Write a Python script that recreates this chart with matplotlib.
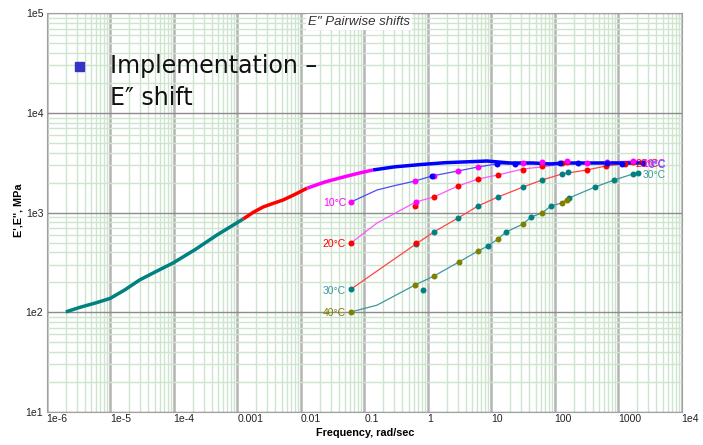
import numpy as np
import matplotlib
matplotlib.use("Agg")
import matplotlib.pyplot as plt
from matplotlib.ticker import LogLocator, NullFormatter
from matplotlib.patches import Rectangle

# master curve, one piece per reference temperature
master_teal_f = [2.0e-6, 3.3e-6, 6.1e-6, 1.0e-5, 1.7e-5, 2.9e-5, 5.1e-5, 9.8e-5,
                 2.2e-4, 4.8e-4, 1.24e-3]
master_teal_E = [101, 112, 125, 138, 168, 211, 254, 313,
                 428, 597, 863]
master_red_f = [1.24e-3, 1.8e-3, 2.56e-3, 3.7e-3, 5.28e-3, 8.2e-3, 0.0126]
master_red_E = [863, 1010, 1140, 1240, 1340, 1530, 1760]
master_mag_f = [0.0126, 0.024, 0.045, 0.08, 0.138]
master_mag_E = [1760, 2030, 2260, 2480, 2681]
master_blue_f = [0.138, 0.3, 0.757, 1.87, 8.6, 19.8, 45.6, 84.5, 150, 400, 1000, 2500]
master_blue_E = [2681, 2880, 3034, 3170, 3296, 3149, 3149, 3078, 3149, 3149, 3149, 3149]

# pairwise shifted curves (thin lines)
blue_f = [0.062, 0.159, 0.284, 0.63, 1.17, 3.0, 6.2, 12.3, 23.7, 121, 233, 667, 1148, 2466]
blue_E = [1280, 1687, 1850, 2076, 2334, 2619, 2873, 3078, 3078, 3149, 3149, 3149, 3078, 3149]
mag_f = [0.062, 0.159, 0.65, 1.25, 3.0, 6.2, 12.8, 31.7, 63, 130, 323, 667, 1710, 2466]
mag_E = [496, 787, 1280, 1436, 1850, 2174, 2388, 2744, 2873, 3078, 3149, 3222, 3296, 3296]
red_f = [0.062, 0.65, 1.25, 3.0, 6.2, 12.8, 31.7, 63, 130, 323, 643, 1280, 2466]
red_E = [171, 484, 640, 883, 1167, 1436, 1807, 2124, 2444, 2681, 2940, 3078, 3222]
teal_f = [0.062, 0.159, 0.63, 1.25, 3.1, 6.2, 8.9, 12.8, 17.1, 31.7, 42.4, 63, 87.5,
          130, 168, 431, 859, 1710, 2056]
teal_E = [101, 118, 188, 231, 320, 412, 463, 544, 640, 769, 904, 991, 1167,
          1251, 1403, 1807, 2124, 2444, 2501]

# measured points
blue_pts_f = [1.17, 12.3, 23.7, 121, 233, 667, 1148, 2466]
blue_pts_E = [2334, 3078, 3078, 3149, 3149, 3149, 3078, 3149]
mag_pts_f = [0.062, 0.63, 0.65, 1.25, 3.0, 6.2, 31.7, 63, 156, 323, 667, 1710]
mag_pts_E = [1280, 2076, 1280, 2334, 2619, 2873, 3149, 3222, 3296, 3149, 3222, 3296]
red_pts_f = [0.062, 0.63, 0.65, 1.25, 3.0, 6.2, 12.8, 31.7, 63, 130, 156, 323, 643, 1280, 1710]
red_pts_E = [496, 1170, 498, 1445, 1860, 2170, 2410, 2681, 2940, 3149, 3222, 2681, 2940, 3078, 3222]
teal_pts_f = [0.062, 0.65, 1.25, 3.0, 6.2, 12.8, 31.7, 63, 130, 162,
              0.84, 8.9, 17.1, 42.4, 87.5, 168, 431, 859, 1710, 2056]
teal_pts_E = [171, 484, 640, 883, 1167, 1436, 1807, 2124, 2444, 2560,
              168, 463, 640, 904, 1167, 1403, 1807, 2124, 2444, 2501]
olive_pts_f = [0.062, 0.63, 1.25, 3.1, 6.2, 12.8, 31.7, 63, 130, 156]
olive_pts_E = [101, 188, 231, 320, 412, 544, 769, 991, 1251, 1340]

xtick_vals = [1e-6, 1e-5, 1e-4, 1e-3, 1e-2, 1e-1, 1, 10, 100, 1000, 1e4]
xtick_labels = ["1e-6", "1e-5", "1e-4", "0.001", "0.01", "0.1", "1", "10", "100", "1000", "1e4"]
ytick_vals = [1e1, 1e2, 1e3, 1e4, 1e5]
ytick_labels = ["1e1", "1e2", "1e3", "1e4", "1e5"]

BLUE = "#0000ff"
MAG = "#ff00ff"
RED = "#ff0000"
TEAL = "#008080"
OLIVE = "#808000"

plt.rcParams["font.family"] = ["Liberation Sans Narrow", "Liberation Sans", "DejaVu Sans"]

fig, ax = plt.subplots(figsize=(7.03, 4.45), dpi=100)
fig.subplots_adjust(left=46.7 / 703, right=681.7 / 703, top=1 - 13.3 / 445, bottom=1 - 412 / 445)

ax.set_xscale("log")
ax.set_yscale("log")
ax.set_xlim(1e-6, 1e4)
ax.set_ylim(1e1, 1e5)

# grid: green minor lines, grey decades
ax.xaxis.set_minor_locator(LogLocator(base=10, subs=np.arange(2, 10), numticks=100))
ax.yaxis.set_minor_locator(LogLocator(base=10, subs=np.arange(2, 10), numticks=100))
ax.xaxis.set_minor_formatter(NullFormatter())
ax.yaxis.set_minor_formatter(NullFormatter())
ax.grid(which="minor", color="#cde4cd", lw=1.0)
ax.grid(which="major", axis="x", color="#b4b4b4", lw=1.8)
ax.grid(which="major", axis="y", color="#8c8c8c", lw=1.0)
ax.set_axisbelow(True)
for s in ax.spines.values():
    s.set_color("#a0a0a0")

ax.set_xticks(xtick_vals)
ax.set_xticklabels(xtick_labels)
ax.set_yticks(ytick_vals)
ax.set_yticklabels(ytick_labels)
ax.tick_params(which="both", length=0, labelsize=7.5, colors="#222222")
ax.tick_params(axis="x", pad=1.5)
ax.tick_params(axis="y", pad=2.5)
for lab in ax.get_xticklabels():
    lab.set_horizontalalignment("left")

# thin pairwise curves
ax.plot(blue_f, blue_E, color="#4a4aff", lw=0.9, zorder=3)
ax.plot(mag_f, mag_E, color="#ff55ff", lw=0.9, zorder=3)
ax.plot(red_f, red_E, color="#ff4444", lw=0.9, zorder=3)
ax.plot(teal_f, teal_E, color="#3a9a9a", lw=0.9, zorder=3)

# master curve
ax.plot(master_teal_f, master_teal_E, color=TEAL, lw=2.5, zorder=4, solid_capstyle="butt")
ax.plot(master_red_f, master_red_E, color=RED, lw=2.5, zorder=4, solid_capstyle="butt")
ax.plot(master_mag_f, master_mag_E, color=MAG, lw=2.5, zorder=4, solid_capstyle="butt")
ax.plot(master_blue_f, master_blue_E, color=BLUE, lw=2.5, zorder=4, solid_capstyle="butt")

# points
ms = 4.3
ax.plot(teal_pts_f, teal_pts_E, "o", color=TEAL, ms=ms, mew=0, zorder=5)
ax.plot(olive_pts_f, olive_pts_E, "o", color=OLIVE, ms=ms, mew=0, zorder=5)
ax.plot(red_pts_f, red_pts_E, "o", color=RED, ms=ms, mew=0, zorder=5)
ax.plot(mag_pts_f, mag_pts_E, "o", color=MAG, ms=ms, mew=0, zorder=5)
ax.plot(blue_pts_f, blue_pts_E, "o", color=BLUE, ms=ms, mew=0, zorder=5)

# temperature labels at the start of each curve
lab_kw = dict(textcoords="offset pixels", fontsize=7.5, va="center", zorder=6)
ax.annotate("10°C", (blue_f[0], blue_E[0]), xytext=(-5, -1), ha="right", color=MAG, **lab_kw)
ax.annotate("20°C", (mag_f[0], mag_E[0]), xytext=(-5, -1), ha="right", color=RED, **lab_kw)
ax.annotate("30°C", (red_f[0], red_E[0]), xytext=(-5, -2), ha="right", color="#3a9a9a", **lab_kw)
ax.annotate("40°C", (teal_f[0], teal_E[0]), xytext=(-5, -1), ha="right", color=OLIVE, **lab_kw)

# and at the high-frequency end, where they pile up
ax.annotate("20°C", (red_f[-1], red_E[-1]), xytext=(-8, -2), ha="left", color=RED, **lab_kw)
ax.annotate("10°C", (red_f[-1], red_E[-1]), xytext=(-1, -2), ha="left", color=MAG, **lab_kw)
ax.annotate("0°C", (blue_f[-1], blue_E[-1]), xytext=(6, -2), ha="left", color="#5050ff", **lab_kw)
ax.annotate("30°C", (teal_f[-1], teal_E[-1]), xytext=(5, -2), ha="left", color="#3a9a9a", **lab_kw)

ax.set_xlabel("Frequency, rad/sec", fontsize=7.8, fontweight="bold", family="Liberation Sans")
ax.set_ylabel("E',E'', MPa", fontsize=7.8, fontweight="bold", family="Liberation Sans")
ax.xaxis.set_label_coords(0.501, -0.04)
ax.yaxis.set_label_coords(-0.036, 0.507)

fig.text(359 / 703, 1 - 22 / 445, 'E" Pairwise shifts', fontsize=9.5, style="italic",
         color="#333333", ha="center", va="center", family="Liberation Sans",
         bbox=dict(facecolor="white", edgecolor="none", pad=1.5))

# slide bullet
fig.patches.append(Rectangle((75 / 703, 1 - 71 / 445), 9 / 703, 9 / 445,
                             transform=fig.transFigure, color="#3434c8", zorder=10))
fig.text(110 / 703, 1 - 73 / 445, "Implementation –", fontsize=17, family="DejaVu Sans",
         color="#111111", va="baseline", zorder=10)
fig.text(110 / 703, 1 - 105 / 445, "E″ shift", fontsize=17, family="DejaVu Sans",
         color="#111111", va="baseline", zorder=10)

fig.savefig("out.png", dpi=100)
